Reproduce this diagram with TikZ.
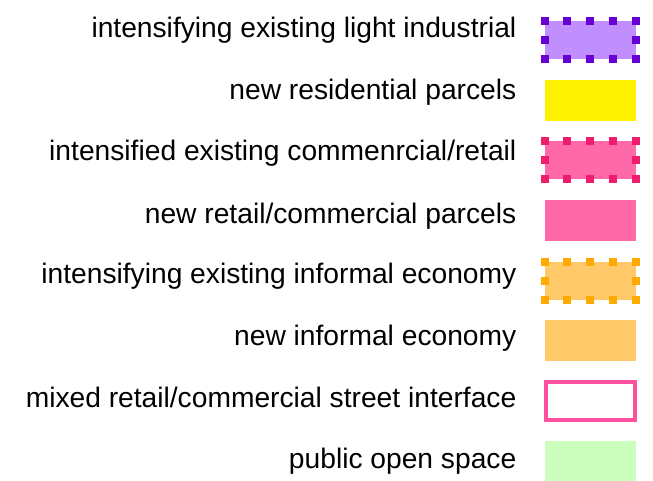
\documentclass[tikz,border=0pt]{standalone}
\usepackage{fontspec}
\setmainfont{Liberation Sans}
\usetikzlibrary{positioning}

\definecolor{violetfill}{RGB}{192,142,255}
\definecolor{violetdot}{RGB}{104,0,214}
\definecolor{residential}{RGB}{255,242,0}
\definecolor{retailfill}{RGB}{255,105,168}
\definecolor{retaildot}{RGB}{240,28,110}
\definecolor{informalfill}{RGB}{255,200,105}
\definecolor{informaldot}{RGB}{255,170,0}
\definecolor{streetline}{RGB}{255,80,160}
\definecolor{openspace}{RGB}{204,255,190}

% square dots round a swatch: five along the long sides, three along the short
\newcommand{\dotframe}[2]{%
  \draw[#2,line width=8pt,dash pattern=on 8pt off 14.75pt]
    ([xshift=-4pt]#1.north west) -- ([xshift=4pt]#1.north east)
    ([xshift=-4pt]#1.south west) -- ([xshift=4pt]#1.south east);
  \draw[#2,line width=8pt,dash pattern=on 8pt off 11pt]
    ([yshift=4pt]#1.north west) -- ([yshift=-4pt]#1.south west)
    ([yshift=4pt]#1.north east) -- ([yshift=-4pt]#1.south east);
}

\begin{document}
\begin{tikzpicture}[
  x=1pt, y=-1pt,
  node distance=60pt, on grid,
  swatch/.style={minimum width=91pt,minimum height=41pt,inner sep=0pt,outer sep=0pt},
  dotswatch/.style={swatch,minimum height=38pt},
  caption/.style={anchor=base east,inner sep=0pt,font=\fontsize{28.2}{34}\selectfont}
]
  \useasboundingbox (0,0) rectangle (653,481);

  % swatches, one under the other
  \node[dotswatch,fill=violetfill] (industrial) at (590,40.5) {};
  \node[swatch,fill=residential,below=of industrial] (residential) {};
  \node[dotswatch,fill=retailfill,below=of residential] (oldretail) {};
  \node[swatch,fill=retailfill,below=of oldretail] (newretail) {};
  \node[dotswatch,fill=informalfill,below=of newretail] (oldinformal) {};
  \node[swatch,fill=informalfill,below=of oldinformal] (newinformal) {};
  \node[swatch,draw=streetline,line width=4pt,minimum width=89pt,minimum height=38pt,
    below=of newinformal] (interface) {};
  \node[swatch,fill=openspace,minimum height=40pt,below=of interface] (openspace) {};

  \dotframe{industrial}{violetdot}
  \dotframe{oldretail}{retaildot}
  \dotframe{oldinformal}{informaldot}

  % captions
  \node[caption] (industrialtext) at (516.5,38) {intensifying existing light industrial};
  \node[caption] (residentialtext) at (516.5,100) {new residential parcels};
  \node[caption] (oldretailtext) at (516.5,161) {intensified existing commenrcial/retail};
  \node[caption] (newretailtext) at (516.5,223) {new retail/commercial parcels};
  \node[caption] (oldinformaltext) at (516.5,283) {intensifying existing informal economy};
  \node[caption] (newinformaltext) at (516.5,345) {new informal economy};
  \node[caption] (interfacetext) at (516.5,407) {mixed retail/commercial street interface};
  \node[caption] (openspacetext) at (516.5,468) {public open space};
\end{tikzpicture}
\end{document}
